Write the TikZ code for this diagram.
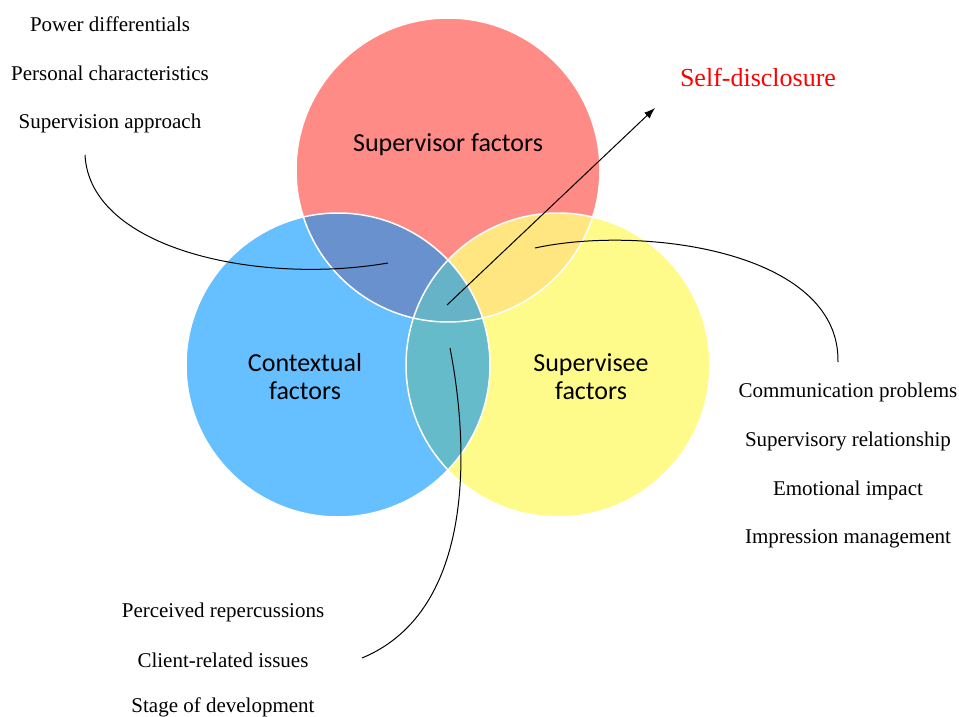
\documentclass[tikz,border=0pt]{standalone}
\usepackage{fontspec}
\setmainfont{Liberation Serif}
\newfontfamily\carlito{Carlito}
\usetikzlibrary{arrows.meta}
\definecolor{supred}{HTML}{FF8B86}
\definecolor{ctxblue}{HTML}{66BFFF}
\definecolor{svyellow}{HTML}{FFFB8A}
\definecolor{redblue}{HTML}{6891CD}
\definecolor{redyellow}{HTML}{FFE680}
\definecolor{blueyellow}{HTML}{66BBCB}
\definecolor{allthree}{HTML}{66B3C7}

\begin{document}
\begin{tikzpicture}[x=1pt,y=-1pt,
  item/.style={font=\fontsize{21}{25}\selectfont},
  factor/.style={font=\carlito\fontsize{26}{28}\selectfont,align=center},
  edge/.style={black,line width=1pt}]
  \useasboundingbox (0,0) rectangle (959,717);
  % the three circles
  \fill[supred]   (448,170) circle (152);
  \fill[ctxblue]  (338,365) circle (152);
  \fill[svyellow] (558,365) circle (152);
  % overlaps
  \begin{scope}
    \clip (448,170) circle (152);
    \fill[redblue] (338,365) circle (152);
    \fill[redyellow] (558,365) circle (152);
  \end{scope}
  \begin{scope}
    \clip (338,365) circle (152);
    \fill[blueyellow] (558,365) circle (152);
    \clip (448,170) circle (152);
    \fill[allthree] (558,365) circle (152);
  \end{scope}
  \draw[white,line width=1.5pt] (448,170) circle (152);
  \draw[white,line width=1.5pt] (338,365) circle (152);
  \draw[white,line width=1.5pt] (558,365) circle (152);
  % circle labels
  \node[factor] (sup) at (448,145) {Supervisor factors};
  \node[factor] (ctx) at (305,377) {Contextual\\factors};
  \node[factor] (sv)  at (591,377) {Supervisee\\factors};
  % supervisor factors list
  \node[item] (power)    at (110,24)  {Power differentials};
  \node[item] (personal) at (110,73)  {Personal characteristics};
  \node[item] (approach) at (110,123) {Supervision approach};
  % supervisee factors list
  \node[item] (comm)    at (848,392) {Communication problems};
  \node[item] (relat)   at (848,441) {Supervisory relationship};
  \node[item] (emot)    at (848,490) {Emotional impact};
  \node[item] (impress) at (848,539) {Impression management};
  % contextual factors list
  \node[item] (repercus) at (223,612) {Perceived repercussions};
  \node[item] (client)   at (223,660) {Client-related issues};
  \node[item] (stage)    at (223,707) {Stage of development};
  % outcome
  \node[red,font=\fontsize{26}{30}\selectfont] (selfdisc) at (758,77) {Self-disclosure};
  % connector ends
  \coordinate (supin)  at (388,263);
  \coordinate (svin)   at (535,248);
  \coordinate (ctxin)  at (450,348);
  \coordinate (mid)    at (447,305);
  \coordinate (tip)    at (655,108);
  \coordinate (append) at (85,155);
  \coordinate (comend) at (838,362);
  \coordinate (cliend) at (362,658);
  \draw[edge] (append) .. controls (90,250) and (260,285) .. (supin);
  \draw[edge] (svin) .. controls (640,225) and (840,250) .. (comend);
  \draw[edge] (ctxin) .. controls (468,440) and (478,610) .. (cliend);
  \draw[edge,-{Latex[length=11pt,width=8pt]}] (mid) -- (tip);
\end{tikzpicture}
\end{document}
